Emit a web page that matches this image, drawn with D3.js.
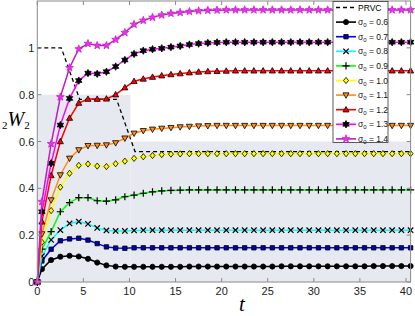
<!DOCTYPE html>
<html><head><meta charset="utf-8">
<script src="https://cdn.jsdelivr.net/npm/d3@7"></script>
<style>body{margin:0;background:#fff}svg{display:block}</style>
</head><body>
<svg id="c" width="415" height="316"></svg>
<script>
// ---- data ----
const tValues = [0,0.5,1.5,2.5,3.5,4.5,5.5,6.5,7.5,8.5,9.5,10.5,11.5,12.5,13.5,14.5,15.5,16.5,17.5,18.5,19.5,20.5,21.5,22.5,23.5,24.5,25.5,26.5,27.5,28.5,29.5,30.5,31.5,32.5,33.5,34.5,35.5,36.5,37.5,38.5,39.5,40.5];
const s06 = [0,0.055,0.094,0.108,0.112,0.109,0.099,0.083,0.071,0.066,0.065,0.065, 0.065,0.065,0.065,0.065,0.065,0.066,0.066,0.066,0.066,0.066,0.066,0.066,0.066,0.066,0.066,0.067,0.067,0.067,0.067,0.067,0.067,0.067,0.067,0.067,0.067,0.068,0.068,0.068,0.068,0.068];
const s07 = [0,0.09,0.14,0.176,0.184,0.187,0.179,0.164,0.150,0.145,0.144,0.146, 0.146,0.146,0.146,0.146,0.146,0.146,0.146,0.146,0.146,0.146,0.146,0.146,0.146,0.146,0.146,0.146,0.146,0.146,0.146,0.146,0.146,0.146,0.146,0.146,0.146,0.146,0.146,0.146,0.146,0.146];
const s08 = [0,0.11,0.18,0.222,0.25,0.258,0.248,0.231,0.220,0.218,0.218,0.220, 0.221,0.221,0.221,0.221,0.221,0.221,0.221,0.221,0.221,0.221,0.221,0.221,0.221,0.221,0.221,0.221,0.221,0.221,0.221,0.221,0.221,0.221,0.221,0.221,0.221,0.221,0.221,0.221,0.221,0.221];
const s09 = [0,0.14,0.215,0.30,0.339,0.36,0.36,0.347,0.345,0.351,0.364,0.371, 0.379,0.385,0.389,0.391,0.392,0.393,0.393,0.393,0.393,0.393,0.393,0.393,0.393,0.393,0.393,0.393,0.393,0.393,0.393,0.393,0.393,0.393,0.393,0.393,0.393,0.393,0.393,0.393,0.393,0.393];
const s10 = [0,0.17,0.305,0.405,0.464,0.498,0.504,0.495,0.493,0.505,0.516,0.528, 0.535,0.54,0.544,0.546,0.547,0.548,0.548,0.548,0.548,0.548,0.548,0.548,0.548,0.548,0.548,0.548,0.548,0.548,0.548,0.548,0.548,0.548,0.548,0.548,0.548,0.548,0.548,0.548,0.548,0.548];
const s11 = [0,0.205,0.35,0.457,0.528,0.564,0.582,0.583,0.585,0.594,0.614,0.635, 0.646,0.652,0.656,0.659,0.662,0.664,0.666,0.667,0.668,0.668,0.668,0.668,0.668,0.668,0.668,0.668,0.668,0.668,0.668,0.668,0.668,0.668,0.668,0.668,0.668,0.668,0.668,0.668,0.668,0.668];
const s12 = [0,0.257,0.455,0.60,0.70,0.764,0.781,0.781,0.782,0.80,0.83,0.857, 0.867,0.875,0.881,0.886,0.89,0.894,0.897,0.899,0.9,0.901,0.902,0.902,0.902,0.902,0.902,0.902,0.902,0.902,0.902,0.902,0.902,0.902,0.902,0.902,0.902,0.902,0.902,0.902,0.902,0.902];
const s13 = [0,0.30,0.507,0.67,0.784,0.86,0.892,0.889,0.898,0.92,0.948,0.974, 0.988,0.994,0.998,1.003,1.008,1.014,1.018,1.021,1.023,1.024,1.024,1.024,1.024,1.024,1.024,1.024,1.024,1.024,1.024,1.024,1.024,1.024,1.024,1.024,1.024,1.024,1.024,1.024,1.024,1.024];
const s14 = [0,0.343,0.59,0.79,0.915,0.995,1.018,1.01,1.01,1.035,1.065,1.10, 1.117,1.13,1.14,1.147,1.151,1.155,1.158,1.16,1.161,1.162,1.162,1.162,1.162,1.162,1.162,1.162,1.162,1.162,1.162,1.162,1.162,1.162,1.162,1.162,1.162,1.162,1.162,1.162,1.162,1.162];
const sigmaLabels = ["0.6","0.7","0.8","0.9","1.0","1.1","1.2","1.3","1.4"];
const prvcT = [0, 2.6, 4.6, 8.6, 10.6, 40.5];
const prvcV = [1, 1, 0.78, 0.78, 0.557, 0.557];
const shadeT = [[0, 10.1], [10.1, 40.5]];
const shadeV = [0.8, 0.6];
const xTicks = [0,5,10,15,20,25,30,35,40];
const yTicks = [0,0.2,0.4,0.6,0.8,1];

// ---- styles ----
const seriesVals = [s06,s07,s08,s09,s10,s11,s12,s13,s14];
const styles = [
  {line:"#000000", marker:"circle",   fill:"#000000", stroke:"#000000", size:2.6},
  {line:"#0000ff", marker:"square",   fill:"#0000b4", stroke:"#000000", size:2.2},
  {line:"#00ffff", marker:"times",    fill:"none",    stroke:"#000000", size:2.7},
  {line:"#00ff00", marker:"plus",     fill:"none",    stroke:"#000000", size:3.6},
  {line:"#ffff00", marker:"diamond",  fill:"#ffff00", stroke:"#000000", size:3.1},
  {line:"#ff8c1a", marker:"tridown",  fill:"#ff8c1a", stroke:"#000000", size:3.2},
  {line:"#ff0000", marker:"triup",    fill:"#ff0000", stroke:"#000000", size:3.2},
  {line:"#ff00ff", marker:"hexagram", fill:"#000000", stroke:"#000000", size:3.7},
  {line:"#c21bc2", marker:"star",     fill:"#e633e6", stroke:"#cc22cc", size:4.1}
];

const svg = d3.select("#c");
const x = d3.scaleLinear().domain([0, 40.5]).range([37.3, 410.6]);
const y = d3.scaleLinear().domain([0, 1.2]).range([282, 1]);

function markerPath(type, r) {
  const p = d3.path();
  if (type === "circle") { p.arc(0,0,r,0,2*Math.PI); }
  else if (type === "square") { p.rect(-r,-r,2*r,2*r); }
  else if (type === "times") { p.moveTo(-r,-r); p.lineTo(r,r); p.moveTo(-r,r); p.lineTo(r,-r); }
  else if (type === "plus") { p.moveTo(-r,0); p.lineTo(r,0); p.moveTo(0,-r); p.lineTo(0,r); }
  else if (type === "diamond") { p.moveTo(0,-r); p.lineTo(r*0.8,0); p.lineTo(0,r); p.lineTo(-r*0.8,0); p.closePath(); }
  else if (type === "triup") { p.moveTo(0,-r); p.lineTo(r*0.95,r*0.7); p.lineTo(-r*0.95,r*0.7); p.closePath(); }
  else if (type === "tridown") { p.moveTo(0,r); p.lineTo(r*0.95,-r*0.7); p.lineTo(-r*0.95,-r*0.7); p.closePath(); }
  else if (type === "star" || type === "hexagram") {
    const n = type === "star" ? 5 : 6;
    const ri = type === "star" ? r*0.42 : r*0.55;
    for (let i = 0; i < 2*n; i++) {
      const a = -Math.PI/2 + i*Math.PI/n;
      const rr = i % 2 === 0 ? r : ri;
      if (i === 0) p.moveTo(rr*Math.cos(a), rr*Math.sin(a)); else p.lineTo(rr*Math.cos(a), rr*Math.sin(a));
    }
    p.closePath();
  }
  return p.toString();
}
function drawMarker(g, st, cx, cy) {
  const sw = (st.marker === "times" || st.marker === "plus") ? 1.2 : 0.8;
  g.append("path").attr("d", markerPath(st.marker, st.size))
    .attr("transform", `translate(${cx},${cy})`)
    .attr("fill", st.fill).attr("stroke", st.stroke).attr("stroke-width", sw);
}

// background shading
const shade = shadeT.map((d,i)=>({t0:d[0], t1:d[1], v:shadeV[i]}));
svg.append("g").selectAll("rect").data(shade).join("rect")
  .attr("x", d=>x(d.t0)).attr("width", d=>x(d.t1)-x(d.t0))
  .attr("y", d=>y(d.v)).attr("height", d=>y(0)-y(d.v))
  .attr("fill", "#e6e9ef");

// PRVC dashed
const prvc = prvcT.map((t,i)=>[t, prvcV[i]]);
svg.append("path").datum(prvc)
  .attr("d", d3.line().x(d=>x(d[0])).y(d=>y(d[1])))
  .attr("fill","none").attr("stroke","#000").attr("stroke-width",1.3).attr("stroke-dasharray","4,3");

// series
const lineGen = d3.line().x(d=>x(d[0])).y(d=>y(d[1]));
seriesVals.forEach((vals, si) => {
  const st = styles[si];
  const pts = tValues.map((t,i)=>[t, vals[i]]);
  const g = svg.append("g");
  g.append("path").datum(pts).attr("d", lineGen)
    .attr("fill","none").attr("stroke", st.line).attr("stroke-width", 1.5);
  pts.forEach(p => drawMarker(g, st, x(p[0]), y(p[1])));
});

// frame & ticks
const axisColor = "#8a8a8a";
const fg = svg.append("g");
fg.append("rect").attr("x", x(0)).attr("y", y(1.2)).attr("width", x(40.5)-x(0)).attr("height", y(0)-y(1.2))
  .attr("fill","none").attr("stroke", axisColor).attr("stroke-width", 1);
xTicks.forEach(t => {
  fg.append("line").attr("x1",x(t)).attr("x2",x(t)).attr("y1",y(0)).attr("y2",y(0)-4).attr("stroke",axisColor);
  fg.append("line").attr("x1",x(t)).attr("x2",x(t)).attr("y1",y(1.2)).attr("y2",y(1.2)+4).attr("stroke",axisColor);
  fg.append("text").attr("x", x(t)).attr("y", 295).attr("text-anchor","middle")
    .attr("font-family","Liberation Sans, Arial, sans-serif").attr("font-size",11).attr("fill","#222").text(t);
});
yTicks.forEach(v => {
  fg.append("line").attr("x1",x(0)).attr("x2",x(0)+4).attr("y1",y(v)).attr("y2",y(v)).attr("stroke",axisColor);
  fg.append("line").attr("x1",x(40.5)).attr("x2",x(40.5)-4).attr("y1",y(v)).attr("y2",y(v)).attr("stroke",axisColor);
  fg.append("text").attr("x", x(0)-3).attr("y", y(v)+4).attr("text-anchor","end")
    .attr("font-family","Liberation Sans, Arial, sans-serif").attr("font-size",11).attr("fill","#222").text(v);
});

// axis labels
const yl = svg.append("text").attr("x", 2).attr("y", 126)
  .attr("font-family","Liberation Serif, DejaVu Serif, serif").attr("fill","#000");
yl.append("tspan").attr("font-size",11).attr("dy",3).text("2");
yl.append("tspan").attr("font-size",20).attr("font-style","italic").attr("dy",-3).text("W");
yl.append("tspan").attr("font-size",11).attr("dy",3).text("2");
svg.append("text").attr("x", 242).attr("y", 311).attr("text-anchor","middle")
  .attr("font-family","Liberation Serif, DejaVu Serif, serif").attr("font-style","italic")
  .attr("font-size",21).text("t");

// legend
const lg = svg.append("g");
lg.append("rect").attr("x",333).attr("y",1.5).attr("width",55).attr("height",141)
  .attr("fill","#fff").attr("stroke","#333").attr("stroke-width",0.8);
const legY = i => 7.5 + i*14.6;
lg.append("line").attr("x1",336).attr("x2",356).attr("y1",legY(0)).attr("y2",legY(0))
  .attr("stroke","#000").attr("stroke-width",1.3).attr("stroke-dasharray","4,3");
lg.append("text").attr("x",358).attr("y",legY(0)+3).attr("font-family","Liberation Sans, Arial, sans-serif")
  .attr("font-size",8.5).text("PRVC");
sigmaLabels.forEach((lab, i) => {
  const st = styles[i];
  const yy = legY(i+1);
  lg.append("line").attr("x1",336).attr("x2",356).attr("y1",yy).attr("y2",yy)
    .attr("stroke",st.line).attr("stroke-width",1.6);
  drawMarker(lg, st, 346, yy);
  const tx = lg.append("text").attr("x",358).attr("y",yy+3).attr("font-family","Liberation Sans, Arial, sans-serif")
    .attr("font-size",8.5).attr("fill","#111");
  tx.append("tspan").text("σ");
  tx.append("tspan").attr("font-size",6).attr("dy",2).text("0");
  tx.append("tspan").attr("dy",-2).text(" = " + lab);
});
</script>
</body></html>
